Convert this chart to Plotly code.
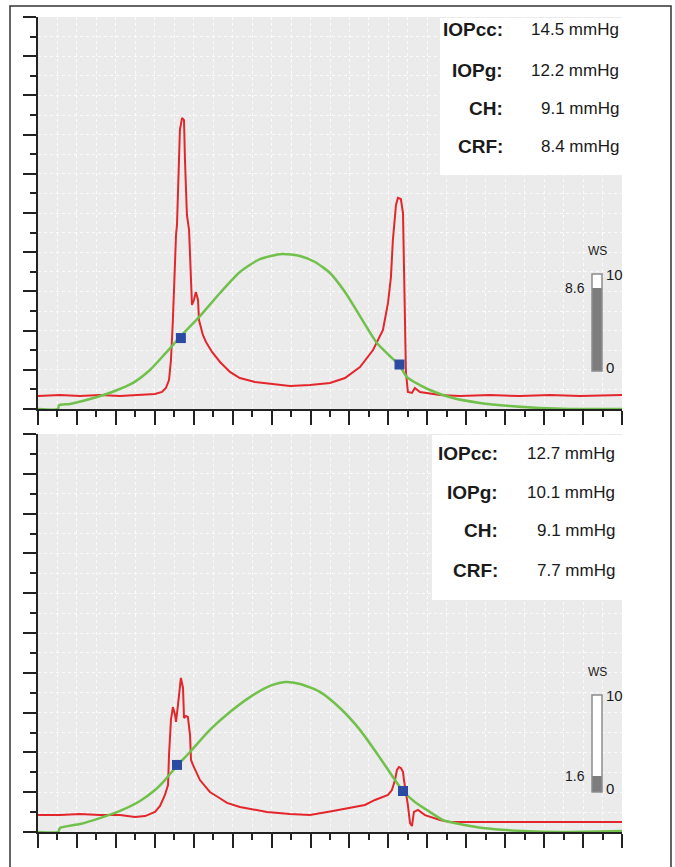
import plotly.graph_objects as go

W, H = 675, 867

# ---------------- data (chart units: x 0..30 ticks, y 0..20 ticks) ----------------
top_red_x = [0.00, 1.13, 2.16, 3.18, 4.21, 5.24, 6.01, 6.37, 6.57, 6.73, 6.83, 6.93, 7.04, 7.09, 7.14, 7.24,
             7.29, 7.40, 7.50, 7.55, 7.65, 7.76, 7.86, 7.91, 8.01, 8.11, 8.22, 8.27, 8.47, 8.63, 8.94, 9.35,
             9.86, 10.37, 11.15, 11.92, 12.94, 13.97, 15.00, 15.77, 16.54, 17.21, 17.72, 17.98, 18.13, 18.23,
             18.39, 18.49, 18.64, 18.75, 18.85, 18.90, 19.00, 19.21, 19.36, 19.62, 20.65, 21.67, 23.22, 24.76,
             26.30, 27.84, 30.00]
top_red_y = [0.66, 0.71, 0.66, 0.71, 0.66, 0.71, 0.77, 0.87, 1.07, 1.48, 2.50, 4.54, 8.27, 8.88, 9.39, 12.70,
             14.23, 14.85, 14.74, 12.70, 9.90, 9.13, 6.58, 5.31, 5.56, 5.97, 5.56, 4.54, 3.78, 3.42, 2.91, 2.40,
             1.89, 1.58, 1.38, 1.28, 1.17, 1.22, 1.33, 1.58, 2.14, 3.01, 4.03, 5.41, 6.73, 8.62,
             10.41, 10.77, 10.71, 10.00, 3.52, 1.89, 0.87, 0.82, 1.07, 0.87, 0.71, 0.66, 0.71, 0.66,
             0.71, 0.66, 0.71]

top_green_x = [0, 1.03, 1.08, 1.64, 3.03, 3.95, 4.88, 5.75, 6.52, 7.34, 8.32, 9.35, 10.37, 11.40, 12.53,
               13.46, 14.23, 15.00, 15.77, 16.54, 17.41, 18.08, 18.59, 18.95, 20.13, 21.31, 22.70, 24.24,
               25.78, 27.32, 30.0]
top_green_y = [0, 0, 0.20, 0.26, 0.61, 0.92, 1.33, 1.99, 2.81, 3.72, 4.74, 5.92, 6.99, 7.65, 7.91,
               7.81, 7.50, 6.94, 5.97, 4.74, 3.37, 2.70, 2.19, 1.63, 0.97, 0.56, 0.31, 0.15,
               0.05, 0.0, 0.0]

top_marks_x = [7.34, 18.57]
top_marks_y = [3.62, 2.27]

bot_red_x = [0.00, 1.13, 2.16, 3.18, 4.21, 4.98, 5.50, 6.01, 6.27, 6.52, 6.68, 6.73, 6.83, 6.88, 6.93, 7.04,
             7.09, 7.19, 7.29, 7.34, 7.45, 7.50, 7.60, 7.70, 7.81, 7.86, 7.96, 8.11, 8.22, 8.32, 8.58, 8.83,
             9.24, 9.71, 10.37, 11.15, 11.76, 12.94, 13.97, 15.15, 16.02, 16.79, 17.31, 17.72, 17.98, 18.18,
             18.34, 18.44, 18.54, 18.64, 18.75, 18.80, 18.90, 19.00, 19.11, 19.21, 19.31, 19.52, 19.88,
             20.65, 21.16, 22.70, 24.76, 26.81, 28.86, 30.00]
bot_red_y = [0.85, 0.85, 0.90, 0.85, 0.85, 0.75, 0.80, 1.01, 1.31, 1.86, 2.36, 3.87, 5.63, 6.13, 6.28, 5.88,
             5.53, 6.38, 7.14, 7.74, 7.24, 5.73, 5.83, 5.78, 4.87, 3.62, 3.37, 3.02, 2.86, 2.61, 2.31, 2.01,
             1.76, 1.46, 1.26, 1.11, 1.01, 0.90, 0.85, 1.06, 1.21, 1.36, 1.61, 1.76, 1.86, 2.11,
             2.61, 3.12, 3.27, 3.22, 3.02, 2.61, 2.01, 1.36, 0.45, 0.30, 1.01, 1.11, 0.85,
             0.60, 0.50, 0.50, 0.50, 0.50, 0.50, 0.50]

bot_green_x = [0, 1.03, 1.13, 2.16, 3.18, 4.21, 5.24, 6.01, 6.52, 7.09, 7.81, 8.83, 9.86, 10.89, 11.92,
               12.69, 13.46, 14.48, 15.51, 16.54, 17.57, 18.34, 18.75, 19.36, 20.13, 20.80, 21.93, 22.86,
               24.91, 26.81, 30.0]
bot_green_y = [0, 0, 0.20, 0.40, 0.70, 1.06, 1.56, 2.11, 2.61, 3.27, 4.02, 5.13, 6.03, 6.78, 7.34,
               7.54, 7.44, 7.04, 6.23, 5.13, 3.72, 2.61, 2.06, 1.51, 1.01, 0.60, 0.35, 0.20,
               0.05, 0.0, 0.05]

bot_marks_x = [7.14, 18.75]
bot_marks_y = [3.37, 2.06]

ws_values = [8.6, 1.6]
ws_max = 10

labels = ["IOPcc:", "IOPg:", "CH:", "CRF:"]
top_values = ["14.5 mmHg", "12.2 mmHg", "9.1 mmHg", "8.4 mmHg"]
bot_values = ["12.7 mmHg", "10.1 mmHg", "9.1 mmHg", "7.7 mmHg"]

# ---------------- styling ----------------
RED = "#e3262c"
GREEN = "#72c04c"
BLUE = "#2b4ba3"
AX = "#222222"
BG = "#ebebeb"
FONT = "Liberation Sans"


def px(x):
    return x / W


def py(y):
    return 1 - y / H


fig = go.Figure()

# top panel traces
fig.add_trace(go.Scatter(x=top_red_x, y=top_red_y, mode="lines", line=dict(color=RED, width=2),
                         xaxis="x", yaxis="y", showlegend=False))
fig.add_trace(go.Scatter(x=top_green_x, y=top_green_y, mode="lines",
                         line=dict(color=GREEN, width=2.5, shape="spline", smoothing=0.6),
                         xaxis="x", yaxis="y", showlegend=False))
fig.add_trace(go.Scatter(x=top_marks_x, y=top_marks_y, mode="markers",
                         marker=dict(symbol="square", size=10, color=BLUE), xaxis="x", yaxis="y",
                         showlegend=False))
# bottom panel traces
fig.add_trace(go.Scatter(x=bot_red_x, y=bot_red_y, mode="lines", line=dict(color=RED, width=2),
                         xaxis="x2", yaxis="y2", showlegend=False))
fig.add_trace(go.Scatter(x=bot_green_x, y=bot_green_y, mode="lines",
                         line=dict(color=GREEN, width=2.5, shape="spline", smoothing=0.6),
                         xaxis="x2", yaxis="y2", showlegend=False))
fig.add_trace(go.Scatter(x=bot_marks_x, y=bot_marks_y, mode="markers",
                         marker=dict(symbol="square", size=10, color=BLUE), xaxis="x2", yaxis="y2",
                         showlegend=False))

# WS gauges as stacked bars
for i, (xa, ya) in enumerate([("x3", "y3"), ("x4", "y4")]):
    v = ws_values[i]
    fig.add_trace(go.Bar(x=[0], y=[v], width=1, marker=dict(color="#7d7d7d", line=dict(width=0)),
                         xaxis=xa, yaxis=ya, showlegend=False))
    fig.add_trace(go.Bar(x=[0], y=[ws_max - v], width=1,
                         marker=dict(color="#ffffff", line=dict(width=0)),
                         xaxis=xa, yaxis=ya, showlegend=False))

xdom = [px(38), px(622)]
main_x = dict(range=[0, 30], showline=True, linecolor=AX, linewidth=2, ticks="outside", tickcolor=AX,
              tickwidth=2, ticklen=14, tick0=0, dtick=2, showticklabels=False, zeroline=False,
              showgrid=True, gridcolor="#fbfbfb", griddash="dot", gridwidth=1,
              minor=dict(tick0=1, dtick=2, ticklen=6, tickwidth=2, tickcolor=AX, ticks="outside",
                         showgrid=True, gridcolor="#fbfbfb", griddash="dot", gridwidth=1),
              fixedrange=True)
main_y = dict(range=[0, 20], showline=True, linecolor=AX, linewidth=2, ticks="outside", tickcolor=AX,
              tickwidth=2, ticklen=13, tick0=0, dtick=2, showticklabels=False, zeroline=False,
              showgrid=True, gridcolor="#fbfbfb", griddash="dot", gridwidth=1,
              minor=dict(tick0=1, dtick=2, ticklen=6, tickwidth=2, tickcolor=AX, ticks="outside",
                         showgrid=True, gridcolor="#fbfbfb", griddash="dot", gridwidth=1),
              fixedrange=True)

gauge_x = dict(range=[-0.5, 0.5], visible=False, fixedrange=True)
gauge_y = dict(range=[0, ws_max], visible=False, fixedrange=True)

fig.update_layout(
    width=W, height=H, margin=dict(l=0, r=0, t=0, b=0),
    paper_bgcolor="white", plot_bgcolor=BG, barmode="stack", bargap=0,
    xaxis=dict(main_x, domain=xdom, anchor="y"),
    yaxis=dict(main_y, domain=[py(409), py(17)], anchor="x"),
    xaxis2=dict(main_x, domain=xdom, anchor="y2"),
    yaxis2=dict(main_y, domain=[py(832), py(434)], anchor="x2"),
    xaxis3=dict(gauge_x, domain=[px(592), px(602)], anchor="y3"),
    yaxis3=dict(gauge_y, domain=[py(371), py(274)], anchor="x3"),
    xaxis4=dict(gauge_x, domain=[px(592), px(602)], anchor="y4"),
    yaxis4=dict(gauge_y, domain=[py(792), py(695)], anchor="x4"),
    font=dict(family=FONT, color="#1a1a1a"),
)

shapes = [
    # outer frame
    dict(type="rect", xref="paper", yref="paper", x0=px(10), x1=px(671), y0=py(880), y1=py(6),
         line=dict(color="#333333", width=1.5), fillcolor="rgba(0,0,0,0)", layer="above"),
    # info boxes
    dict(type="rect", xref="paper", yref="paper", x0=px(440), x1=px(624), y0=py(175), y1=py(18),
         line=dict(width=0), fillcolor="white", layer="above"),
    dict(type="rect", xref="paper", yref="paper", x0=px(432), x1=px(624), y0=py(600), y1=py(435),
         line=dict(width=0), fillcolor="white", layer="above"),
    # gauge outlines
    dict(type="rect", xref="x3 domain", yref="y3 domain", x0=0, x1=1, y0=0, y1=1,
         line=dict(color="#8c8c8c", width=1.5), fillcolor="rgba(0,0,0,0)", layer="above"),
    dict(type="rect", xref="x4 domain", yref="y4 domain", x0=0, x1=1, y0=0, y1=1,
         line=dict(color="#8c8c8c", width=1.5), fillcolor="rgba(0,0,0,0)", layer="above"),
]
fig.update_layout(shapes=shapes)

ann = []
top_rows = [30, 70, 108, 146]
bot_rows = [453, 492, 530, 570]
for rows, vals, lx, vx in [(top_rows, top_values, 505, 621), (bot_rows, bot_values, 500, 617)]:
    for r, lab, val in zip(rows, labels, vals):
        ann.append(dict(xref="paper", yref="paper", x=px(lx), y=py(r), text="<b>" + lab + "</b>",
                        showarrow=False, xanchor="right", yanchor="middle", font=dict(size=19)))
        ann.append(dict(xref="paper", yref="paper", x=px(vx), y=py(r), text=val,
                        showarrow=False, xanchor="right", yanchor="middle", font=dict(size=17)))

for i, (xa, ya) in enumerate([("x3", "y3"), ("x4", "y4")]):
    v = ws_values[i]
    ann.append(dict(xref=xa, yref=ya, x=0, y=ws_max, yshift=14, text="WS", showarrow=False,
                    xanchor="center", yanchor="bottom", font=dict(size=12)))
    ann.append(dict(xref=xa, yref=ya, x=0.5, y=ws_max, xshift=2, text=str(ws_max), showarrow=False,
                    xanchor="left", yanchor="middle", font=dict(size=15)))
    ann.append(dict(xref=xa, yref=ya, x=0.5, y=0, xshift=2, yshift=4, text="0", showarrow=False,
                    xanchor="left", yanchor="middle", font=dict(size=15)))
    ann.append(dict(xref=xa, yref=ya, x=-0.5, y=v, xshift=-5, text=str(v), showarrow=False,
                    xanchor="right", yanchor="middle", font=dict(size=14)))
fig.update_layout(annotations=ann)

fig.write_html("out.html")
